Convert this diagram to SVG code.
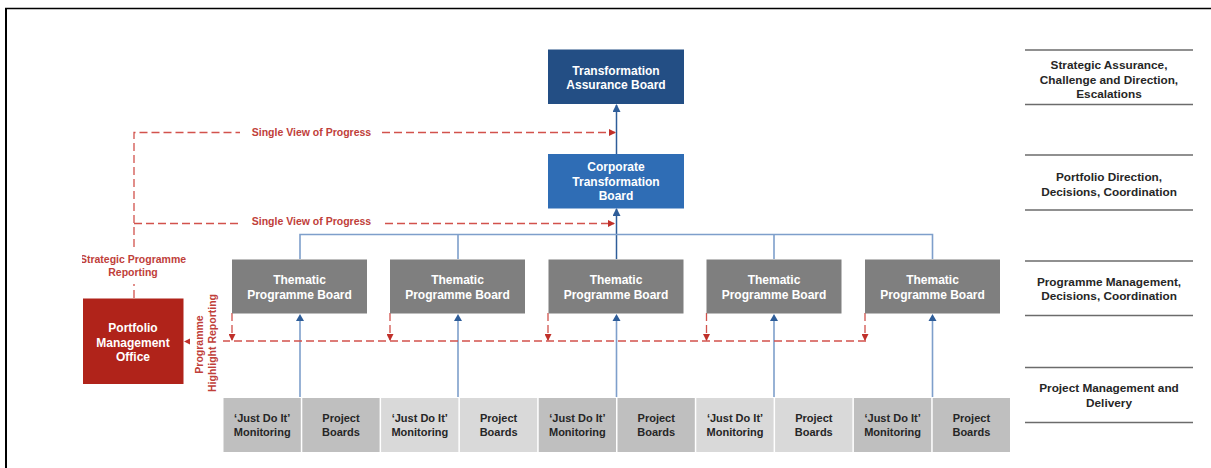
<svg xmlns="http://www.w3.org/2000/svg" width="1211" height="468" viewBox="0 0 1211 468">
  <style>
    .t { font-family: "Liberation Sans", Arial, sans-serif; font-weight: bold; text-anchor: middle; }
    .w { fill: #ffffff; font-size: 12px; }
    .k { fill: #262626; font-size: 11px; }
    .lbl { fill: #262626; font-size: 11.8px; }
    .r { fill: #C0403A; font-size: 10.5px; }
    .dash { fill: none; stroke: #D2524C; stroke-width: 1.3; stroke-dasharray: 8 4; }
    .bus { fill: none; stroke: #7E9FCB; stroke-width: 1.6; }
    .navy { fill: none; stroke: #2E5D99; stroke-width: 1.5; }
    .rule { stroke: #6B6B6B; stroke-width: 1.3; }
    .tpb { fill: #7F7F7F; }
    .dk { fill: #BFBFBF; }
    .lt { fill: #D9D9D9; }
  </style>
  <defs>
    <marker id="ah-blue" markerWidth="8" markerHeight="8" refX="7" refY="4" orient="auto" markerUnits="userSpaceOnUse">
      <path d="M0,0 L8,4 L0,8 z" fill="#2E5D99"/>
    </marker>
    <marker id="ah-red" markerWidth="7" markerHeight="7" refX="6" refY="3.5" orient="auto" markerUnits="userSpaceOnUse">
      <path d="M0,0 L7,3.5 L0,7 z" fill="#C0302A"/>
    </marker>
    <clipPath id="clip-left">
      <rect x="82" y="240" width="140" height="50"/>
    </clipPath>
  </defs>

  <rect width="1211" height="468" fill="#ffffff"/>

  <!-- frame -->
  <g id="frame">
    <line x1="5" y1="8.5" x2="1211" y2="8.5" stroke="#000" stroke-width="1.5"/>
    <line x1="6" y1="8" x2="6" y2="468" stroke="#000" stroke-width="2"/>
  </g>

  <!-- level bands on the right -->
  <g id="levels">
    <line class="rule" x1="1025" y1="50" x2="1193" y2="50"/>
    <line class="rule" x1="1025" y1="104.5" x2="1193" y2="104.5"/>
    <line class="rule" x1="1025" y1="155" x2="1193" y2="155"/>
    <line class="rule" x1="1025" y1="210" x2="1193" y2="210"/>
    <line class="rule" x1="1025" y1="261" x2="1193" y2="261"/>
    <line class="rule" x1="1025" y1="315.5" x2="1193" y2="315.5"/>
    <line class="rule" x1="1025" y1="367.5" x2="1193" y2="367.5"/>
    <line class="rule" x1="1025" y1="422.5" x2="1193" y2="422.5"/>
    <text class="t lbl" x="1109" y="68.5">Strategic Assurance,</text>
    <text class="t lbl" x="1109" y="83.5">Challenge and Direction,</text>
    <text class="t lbl" x="1109" y="98">Escalations</text>
    <text class="t lbl" x="1109" y="181">Portfolio Direction,</text>
    <text class="t lbl" x="1109" y="195.5">Decisions, Coordination</text>
    <text class="t lbl" x="1109" y="286">Programme Management,</text>
    <text class="t lbl" x="1109" y="300">Decisions, Coordination</text>
    <text class="t lbl" x="1109" y="392">Project Management and</text>
    <text class="t lbl" x="1109" y="407">Delivery</text>
  </g>

  <!-- connectors -->
  <g id="connectors">
    <!-- reporting tree (blue) -->
    <path class="navy" d="M616.5,154 V105" marker-end="url(#ah-blue)"/>
    <path class="navy" d="M616.5,259 V209" marker-end="url(#ah-blue)"/>
    <path class="bus" d="M300,259 V234.5 H932.5 V259 M458,234.5 V259 M774,234.5 V259"/>
    <path class="bus" d="M300,397 V316"/>
    <path class="bus" d="M458,397 V316"/>
    <path class="bus" d="M616.5,397 V316"/>
    <path class="bus" d="M774,397 V316"/>
    <path class="bus" d="M932.5,397 V316"/>
    <g fill="#2E5D99">
      <path d="M300,314 L296,321 L304,321 z"/>
      <path d="M458,314 L454,321 L462,321 z"/>
      <path d="M616.5,314 L612.5,321 L620.5,321 z"/>
      <path d="M774,314 L770,321 L778,321 z"/>
      <path d="M932.5,314 L928.5,321 L936.5,321 z"/>
    </g>

    <!-- single view of progress (red dashed) -->
    <path class="dash" d="M134,298 V284"/>
    <path class="dash" d="M134,247 V132.5 H240"/>
    <path class="dash" d="M382,132.5 H615" marker-end="url(#ah-red)"/>
    <path class="dash" d="M134,223.5 H240"/>
    <path class="dash" d="M385,223.5 H614" marker-end="url(#ah-red)"/>
    <text class="t r" x="311.5" y="135.8">Single View of Progress</text>
    <text class="t r" x="311.5" y="224.8">Single View of Progress</text>

    <!-- programme highlight reporting (red dashed) -->
    <path class="dash" d="M866,341 H223"/>
    <path class="dash" d="M232,313 V340" marker-end="url(#ah-red)"/>
    <path class="dash" d="M390,313 V340" marker-end="url(#ah-red)"/>
    <path class="dash" d="M548,313 V340" marker-end="url(#ah-red)"/>
    <path class="dash" d="M706.5,313 V340" marker-end="url(#ah-red)"/>
    <path class="dash" d="M865,313 V340" marker-end="url(#ah-red)"/>
    <path d="M184,341.5 L190,338.5 L190,344.5 z" fill="#C0302A"/>
    <text class="t r" transform="translate(207,343) rotate(-90)">
      <tspan x="0" y="-4.2">Programme</tspan>
      <tspan x="0" y="8.6">Highlight Reporting</tspan>
    </text>

    <!-- strategic programme reporting label -->
    <g clip-path="url(#clip-left)">
      <text class="t r" x="133" y="262.8">Strategic Programme</text>
    </g>
    <text class="t r" x="133" y="276">Reporting</text>
  </g>

  <!-- top boards -->
  <g id="transformation-assurance-board">
    <rect x="548" y="49.5" width="136" height="54.5" fill="#234E84"/>
    <text class="t w" x="616" y="75">Transformation</text>
    <text class="t w" x="616" y="89">Assurance Board</text>
  </g>
  <g id="corporate-transformation-board">
    <rect x="548" y="154" width="136" height="54.5" fill="#2F6DB5"/>
    <text class="t w" x="616" y="171">Corporate</text>
    <text class="t w" x="616" y="185.8">Transformation</text>
    <text class="t w" x="616" y="200.3">Board</text>
  </g>

  <!-- portfolio management office -->
  <g id="pmo">
    <rect x="83" y="298.5" width="100.5" height="85.5" fill="#B0231A"/>
    <text class="t w" x="133" y="331.6">Portfolio</text>
    <text class="t w" x="133" y="346.6">Management</text>
    <text class="t w" x="133" y="361">Office</text>
  </g>

  <!-- thematic programme boards -->
  <g id="tpb-1">
    <rect class="tpb" x="232" y="259.5" width="135" height="54"/>
    <text class="t w" x="299.5" y="284.3">Thematic</text>
    <text class="t w" x="299.5" y="298.6">Programme Board</text>
  </g>
  <g id="tpb-2">
    <rect class="tpb" x="390" y="259.5" width="135" height="54"/>
    <text class="t w" x="457.5" y="284.3">Thematic</text>
    <text class="t w" x="457.5" y="298.6">Programme Board</text>
  </g>
  <g id="tpb-3">
    <rect class="tpb" x="548.5" y="259.5" width="135" height="54"/>
    <text class="t w" x="616" y="284.3">Thematic</text>
    <text class="t w" x="616" y="298.6">Programme Board</text>
  </g>
  <g id="tpb-4">
    <rect class="tpb" x="706.5" y="259.5" width="135" height="54"/>
    <text class="t w" x="774" y="284.3">Thematic</text>
    <text class="t w" x="774" y="298.6">Programme Board</text>
  </g>
  <g id="tpb-5">
    <rect class="tpb" x="865" y="259.5" width="135" height="54"/>
    <text class="t w" x="932.5" y="284.3">Thematic</text>
    <text class="t w" x="932.5" y="298.6">Programme Board</text>
  </g>

  <!-- project-level delivery -->
  <g id="delivery-1">
    <rect class="dk" x="223.5" y="398" width="77.3" height="54"/>
    <text class="t k" x="262.2" y="422.2">‘Just Do It’</text>
    <text class="t k" x="262.2" y="435.6">Monitoring</text>
    <rect class="dk" x="302.3" y="398" width="77.3" height="54"/>
    <text class="t k" x="341" y="422.2">Project</text>
    <text class="t k" x="341" y="435.6">Boards</text>
  </g>
  <g id="delivery-2">
    <rect class="lt" x="381.1" y="398" width="77.3" height="54"/>
    <text class="t k" x="419.8" y="422.2">‘Just Do It’</text>
    <text class="t k" x="419.8" y="435.6">Monitoring</text>
    <rect class="lt" x="459.9" y="398" width="77.3" height="54"/>
    <text class="t k" x="498.6" y="422.2">Project</text>
    <text class="t k" x="498.6" y="435.6">Boards</text>
  </g>
  <g id="delivery-3">
    <rect class="dk" x="538.7" y="398" width="77.3" height="54"/>
    <text class="t k" x="577.4" y="422.2">‘Just Do It’</text>
    <text class="t k" x="577.4" y="435.6">Monitoring</text>
    <rect class="dk" x="617.5" y="398" width="77.3" height="54"/>
    <text class="t k" x="656.2" y="422.2">Project</text>
    <text class="t k" x="656.2" y="435.6">Boards</text>
  </g>
  <g id="delivery-4">
    <rect class="lt" x="696.3" y="398" width="77.3" height="54"/>
    <text class="t k" x="735" y="422.2">‘Just Do It’</text>
    <text class="t k" x="735" y="435.6">Monitoring</text>
    <rect class="lt" x="775.1" y="398" width="77.3" height="54"/>
    <text class="t k" x="813.8" y="422.2">Project</text>
    <text class="t k" x="813.8" y="435.6">Boards</text>
  </g>
  <g id="delivery-5">
    <rect class="dk" x="853.9" y="398" width="77.3" height="54"/>
    <text class="t k" x="892.6" y="422.2">‘Just Do It’</text>
    <text class="t k" x="892.6" y="435.6">Monitoring</text>
    <rect class="dk" x="932.7" y="398" width="77.3" height="54"/>
    <text class="t k" x="971.4" y="422.2">Project</text>
    <text class="t k" x="971.4" y="435.6">Boards</text>
  </g>
</svg>
